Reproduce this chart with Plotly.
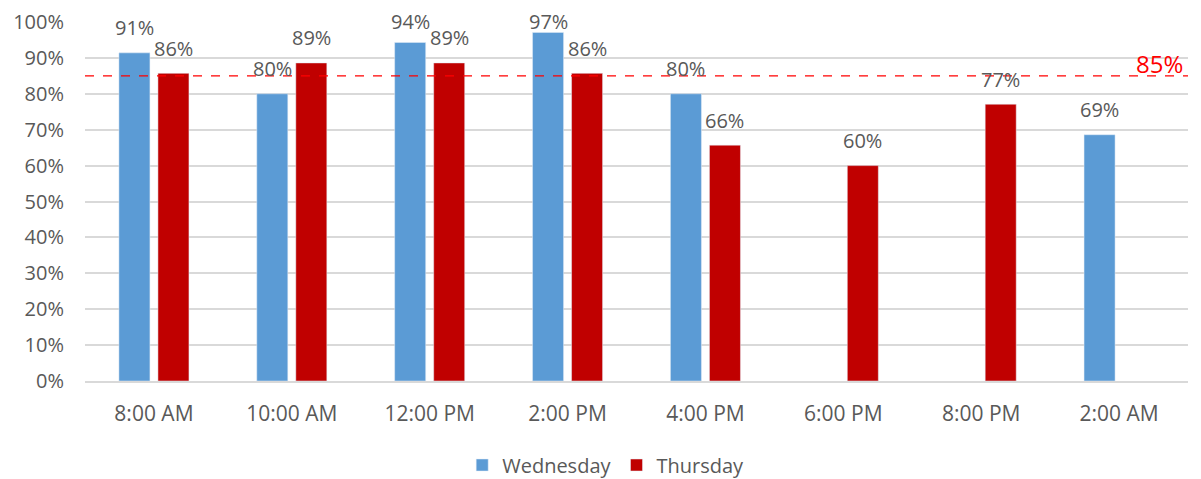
import plotly.graph_objects as go

categories = ["8:00 AM", "10:00 AM", "12:00 PM", "2:00 PM", "4:00 PM", "6:00 PM", "8:00 PM", "2:00 AM"]
wednesday = [0.914, 0.80, 0.943, 0.971, 0.80, None, None, 0.686]
thursday = [0.857, 0.886, 0.886, 0.857, 0.657, 0.60, 0.771, None]
target = 0.85
target_label = "85%"

font_family = "Open Sans, Liberation Sans, sans-serif"
grey = "#595959"

W, H = 1193, 471
ML, MR, MT, MB = 77, 13, 14, 98
BARGAP = 0.434
BARGROUPGAP = 0.205

fig = go.Figure()
fig.add_trace(go.Bar(x=categories, y=wednesday, name="Wednesday", marker_color="#5B9BD5"))
fig.add_trace(go.Bar(x=categories, y=thursday, name="Thursday", marker_color="#C00000"))

# data labels placed above each bar, shifted to its slot in the group,
# kept inside the figure when the bar is near the top
plot_w = W - ML - MR
plot_h = H - MT - MB
slot = plot_w / len(categories) * (1 - BARGAP) / 2
for series, sign in ((wednesday, -1), (thursday, 1)):
    for cat, v in zip(categories, series):
        if v is None:
            continue
        fig.add_annotation(x=cat, y=v, xref="x", yref="y", text=f"{v:.0%}", showarrow=False,
                           xanchor="center", yanchor="middle",
                           xshift=sign * slot / 2, yshift=min(25, (1 - v) * plot_h),
                           font=dict(size=20, color=grey, family=font_family))

fig.add_shape(type="line", xref="paper", x0=0, x1=1, yref="y", y0=target, y1=target,
              line=dict(color="#FF0000", width=1.3, dash="dash"))
fig.add_annotation(xref="paper", x=1, yref="y", y=target, text=target_label, showarrow=False,
                   xanchor="right", yanchor="bottom", yshift=-6, xshift=-3,
                   font=dict(size=24, color="#FF0000", family=font_family))

fig.update_layout(
    width=W, height=H,
    margin=dict(l=ML, r=MR, t=MT, b=MB, autoexpand=False),
    plot_bgcolor="white", paper_bgcolor="white",
    barmode="group", bargap=BARGAP, bargroupgap=BARGROUPGAP,
    font=dict(family=font_family, color=grey, size=16),
    legend=dict(orientation="h", xref="container", x=0.501, xanchor="center",
                yref="paper", y=-0.234, yanchor="middle",
                font=dict(size=20, color=grey), itemwidth=30),
    showlegend=True,
)
fig.update_yaxes(range=[0, 1], dtick=0.1, tickformat=".0%", showgrid=True,
                 gridcolor="#D9D9D9", gridwidth=1.5, zeroline=False,
                 tickfont=dict(size=20, color=grey), ticks="", ticklabelstandoff=20)
fig.update_xaxes(showgrid=False, showline=True, linecolor="#D9D9D9", linewidth=1.5,
                 tickfont=dict(size=21, color=grey), ticklabelstandoff=13)

fig.write_html("out.html")
